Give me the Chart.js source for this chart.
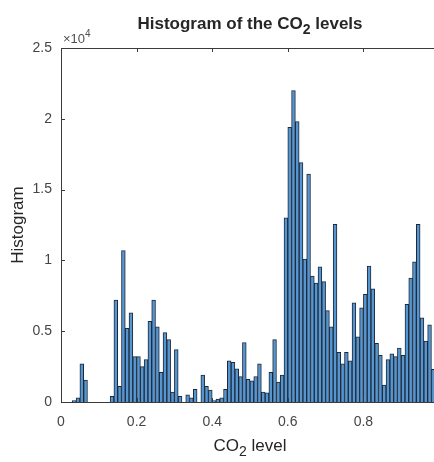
<!DOCTYPE html>
<html>
<head>
<meta charset="utf-8">
<script src="https://cdn.jsdelivr.net/npm/chart.js@4"></script>
<style>
  html, body { margin: 0; padding: 0; background: #fff; overflow: hidden; }
  #wrap { width: 434px; height: 462px; overflow: hidden; position: relative; }
  #histChart { position: absolute; left: 0; top: 0; }
</style>
</head>
<body>
<div id="wrap"><canvas id="histChart" width="446" height="462"></canvas></div>
<script>
// histogram counts, 0.01 wide bins starting at 0 (last bins run off the right edge)
const binWidth = 0.01;
const counts = [
  0, 0, 0, 100, 300, 2700, 1550, 0, 0, 0,
  0, 0, 0, 400, 7200, 1100, 10700, 5200, 6300, 3200,
  3200, 2500, 3000, 5700, 7200, 5300, 2100, 4900, 4400, 700,
  3700, 400, 0, 500, 300, 900, 0, 1900, 1100, 850,
  100, 200, 300, 900, 2900, 2800, 2350, 1800, 4200, 1600,
  1500, 1800, 2700, 700, 650, 2100, 4400, 1400, 1900, 13000,
  19400, 22000, 19800, 16900, 10100, 16100, 8900, 8400, 9550, 8500,
  6450, 5300, 12550, 3500, 2700, 3500, 2900, 7000, 4600, 6650,
  7600, 9600, 8000, 4150, 3300, 1200, 3000, 3400, 3200, 3800,
  3300, 6900, 8750, 9900, 12550, 5950, 4300, 5450, 2300
];
const xTicks = [0, 0.2, 0.4, 0.6, 0.8, 1];
const xTickLabels = ['0', '0.2', '0.4', '0.6', '0.8', '1'];
const yTicks = [0, 5000, 10000, 15000, 20000, 25000];
const yTickLabels = ['0', '0.5', '1', '1.5', '2', '2.5'];

const FONT = '"Liberation Sans", Arial, Helvetica, sans-serif';
const TEXT = '#262626';

// draws a line of text where some parts are subscript
function drawRich(ctx, parts, cx, cy, size, weight) {
  const small = Math.round(size * 0.8);
  let total = 0;
  parts.forEach(p => {
    ctx.font = `${weight} ${p.sub ? small : size}px ${FONT}`;
    total += ctx.measureText(p.text).width;
  });
  let x = cx - total / 2;
  parts.forEach(p => {
    ctx.font = `${weight} ${p.sub ? small : size}px ${FONT}`;
    ctx.fillText(p.text, x, cy + (p.sub ? size * 0.35 : 0));
    x += ctx.measureText(p.text).width;
  });
}

const matlabAxes = {
  id: 'matlabAxes',
  afterDraw(chart) {
    const ctx = chart.ctx;
    const a = chart.chartArea;
    const xs = chart.scales.x, ys = chart.scales.y;
    ctx.save();
    ctx.strokeStyle = '#3a3a3a';
    ctx.lineWidth = 1;
    ctx.strokeRect(Math.round(a.left) + 0.5, Math.round(a.top) + 0.5,
      Math.round(a.right - a.left), Math.round(a.bottom - a.top));
    // inward ticks
    ctx.beginPath();
    xTicks.forEach(v => {
      const px = Math.round(xs.getPixelForValue(v)) + 0.5;
      ctx.moveTo(px, a.bottom); ctx.lineTo(px, a.bottom - 4);
      ctx.moveTo(px, a.top); ctx.lineTo(px, a.top + 4);
    });
    yTicks.forEach(v => {
      const py = Math.round(ys.getPixelForValue(v)) + 0.5;
      ctx.moveTo(a.left, py); ctx.lineTo(a.left + 4, py);
      ctx.moveTo(a.right, py); ctx.lineTo(a.right - 4, py);
    });
    ctx.stroke();

    ctx.textBaseline = 'middle';
    ctx.textAlign = 'left';
    // exponent above y axis
    ctx.fillStyle = '#505050';
    ctx.font = `13px ${FONT}`;
    ctx.fillText('\u00d710', a.left + 2, a.top - 9);
    const w = ctx.measureText('\u00d710').width;
    ctx.font = `10px ${FONT}`;
    ctx.fillText('4', a.left + 2 + w, a.top - 14);

    ctx.fillStyle = TEXT;
    const cx = (a.left + a.right) / 2;
    drawRich(ctx, [{ text: 'Histogram of the CO' }, { text: '2', sub: true }, { text: ' levels' }],
      cx, 24, 17, 'bold');
    drawRich(ctx, [{ text: 'CO' }, { text: '2', sub: true }, { text: ' level' }],
      cx, 446, 17, 'normal');
    ctx.translate(18, (a.top + a.bottom) / 2);
    ctx.rotate(-Math.PI / 2);
    drawRich(ctx, [{ text: 'Histogram' }], 0, 0, 17, 'normal');
    ctx.restore();
  }
};

const ctx = document.getElementById('histChart').getContext('2d');
const histChart = new Chart(ctx, {
  type: 'bar',
  data: {
    datasets: [{
      label: 'CO2',
      data: counts.map((c, i) => ({ x: (i + 0.5) * binWidth, y: c })),
      backgroundColor: 'rgb(86, 150, 208)',
      borderColor: 'rgb(30, 40, 56)',
      borderWidth: 1,
      barPercentage: 1,
      categoryPercentage: 1
    }]
  },
  options: {
    responsive: false,
    animation: false,
    layout: { padding: { top: 48, right: 7, bottom: 0, left: 0 } },
    plugins: {
      legend: { display: false },
      tooltip: { enabled: false },
      title: { display: false }
    },
    scales: {
      x: {
        type: 'linear',
        min: 0,
        max: 1,
        offset: false,
        // the "1" label sits past the cropped right edge, so only label ticks inside
        afterBuildTicks: s => { s.ticks = xTicks.filter(v => v < s.max).map(v => ({ value: v })); },
        afterFit: s => { s.height = 60; },
        grid: { display: false, drawTicks: false },
        border: { display: false },
        ticks: {
          padding: 12,
          color: '#454545',
          font: { family: FONT, size: 14 },
          maxRotation: 0,
          callback: v => xTickLabels[xTicks.indexOf(v)]
        }
      },
      y: {
        min: 0,
        max: 25000,
        afterBuildTicks: s => { s.ticks = yTicks.map(v => ({ value: v })); },
        afterFit: s => { s.width = 61; },
        grid: { display: false, drawTicks: false },
        border: { display: false },
        ticks: {
          padding: 9,
          color: '#454545',
          font: { family: FONT, size: 14 },
          callback: v => yTickLabels[yTicks.indexOf(v)]
        }
      }
    }
  },
  plugins: [matlabAxes]
});
</script>
</body>
</html>
